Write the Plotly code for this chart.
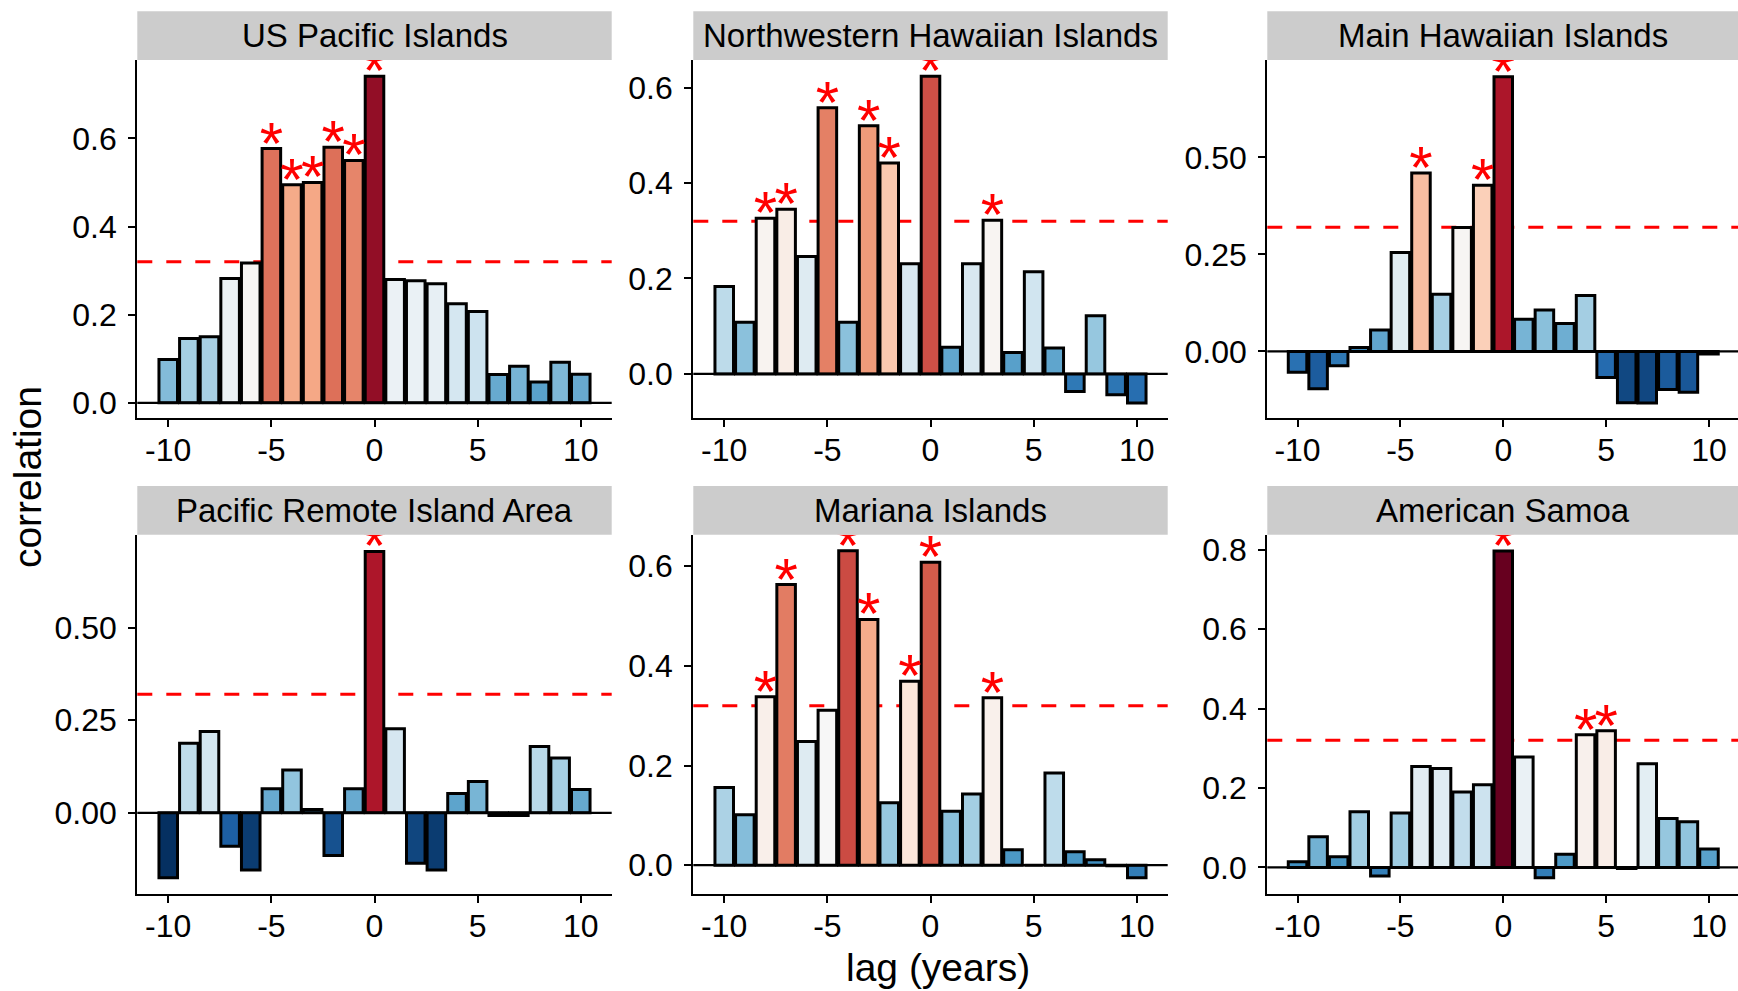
import plotly.graph_objects as go

# lag in years
lags = list(range(-10, 11))
x_tick_vals = [-10, -5, 0, 5, 10]
x_tick_text = ["-10", "-5", "0", "5", "10"]

regions = [
    "US Pacific Islands",
    "Northwestern Hawaiian Islands",
    "Main Hawaiian Islands",
    "Pacific Remote Island Area",
    "Mariana Islands",
    "American Samoa",
]

# correlation by lag, -10 .. 10
corr_us_pacific = [0.098, 0.146, 0.150, 0.282, 0.317, 0.577, 0.495, 0.500, 0.580, 0.550, 0.741,
                   0.280, 0.277, 0.270, 0.225, 0.207, 0.064, 0.083, 0.047, 0.092, 0.065]
corr_nw_hawaii = [0.183, 0.108, 0.326, 0.345, 0.246, 0.558, 0.108, 0.520, 0.442, 0.231, 0.624,
                  0.056, 0.231, 0.322, 0.045, 0.214, 0.054, -0.037, 0.122, -0.044, -0.061]
corr_main_hawaii = [-0.054, -0.096, -0.037, 0.010, 0.055, 0.255, 0.460, 0.147, 0.319, 0.428, 0.708,
                    0.083, 0.107, 0.072, 0.144, -0.067, -0.132, -0.133, -0.098, -0.105, -0.007]
corr_remote = [-0.175, 0.188, 0.220, -0.090, -0.154, 0.065, 0.116, 0.009, -0.115, 0.065, 0.706,
               0.227, -0.136, -0.154, 0.052, 0.085, -0.007, -0.007, 0.179, 0.148, 0.063]
corr_mariana = [0.156, 0.101, 0.338, 0.563, 0.248, 0.311, 0.631, 0.493, 0.125, 0.369, 0.608,
                0.108, 0.143, 0.336, 0.031, 0.000, 0.185, 0.027, 0.011, -0.001, -0.025]
corr_samoa = [0.014, 0.077, 0.027, 0.140, -0.022, 0.137, 0.254, 0.249, 0.190, 0.208, 0.797,
              0.278, -0.026, 0.033, 0.334, 0.344, -0.003, 0.261, 0.123, 0.115, 0.046]

# lags flagged significant (red asterisks)
sig_us_pacific = [-5, -4, -3, -2, -1, 0]
sig_nw_hawaii = [-8, -7, -5, -3, -2, 0, 3]
sig_main_hawaii = [-4, -1, 0]
sig_remote = [0]
sig_mariana = [-8, -7, -4, -3, -1, 0, 3]
sig_samoa = [0, 4, 5]

threshold = 0.32

corr_all = [corr_us_pacific, corr_nw_hawaii, corr_main_hawaii, corr_remote, corr_mariana, corr_samoa]
sig_all = [sig_us_pacific, sig_nw_hawaii, sig_main_hawaii, sig_remote, sig_mariana, sig_samoa]

y_tick_vals = [
    [0.0, 0.2, 0.4, 0.6],
    [0.0, 0.2, 0.4, 0.6],
    [0.0, 0.25, 0.5],
    [0.0, 0.25, 0.5],
    [0.0, 0.2, 0.4, 0.6],
    [0.0, 0.2, 0.4, 0.6, 0.8],
]
y_tick_text = [
    ["0.0", "0.2", "0.4", "0.6"],
    ["0.0", "0.2", "0.4", "0.6"],
    ["0.00", "0.25", "0.50"],
    ["0.00", "0.25", "0.50"],
    ["0.0", "0.2", "0.4", "0.6"],
    ["0.0", "0.2", "0.4", "0.6", "0.8"],
]

# RdBu (11 classes), blue for low, red for high
rdbu = ["#053061", "#2166AC", "#4393C3", "#92C5DE", "#D1E5F0", "#F7F7F7",
        "#FDDBC7", "#F4A582", "#D6604D", "#B2182B", "#67001F"]
colorscale = [[k / 10, c] for k, c in enumerate(rdbu)]
cmin = min(min(v) for v in corr_all)
cmax = max(max(v) for v in corr_all)

W, H = 1738, 991
FONT = "Liberation Sans, Arial, Helvetica, sans-serif"

# panel placement (pixels)
col_px = [(137.3, 611.7), (693.3, 1167.7), (1267.3, 1738.0)]
row_px = [(57.3, 417.3), (535.0, 896.0)]
x_ranges = [[-11.5, 11.5], [-11.5, 11.5], [-11.47, 11.41]]
y_ranges = [[-0.034, 0.778], [-0.092, 0.658], [-0.171, 0.751],
            [-0.218, 0.751], [-0.057, 0.663], [-0.066, 0.838]]
strip_h = 49

fig = go.Figure()
layout = dict(
    width=W, height=H,
    margin=dict(l=0, r=0, t=0, b=0),
    paper_bgcolor="white", plot_bgcolor="white",
    showlegend=False,
    font=dict(family=FONT, color="black"),
)
shapes = []
annotations = []

for i, (name, vals, sig) in enumerate(zip(regions, corr_all, sig_all)):
    n = i + 1
    sfx = "" if n == 1 else str(n)
    r, c = divmod(i, 3)
    x0, x1 = col_px[c]
    top, bot = row_px[r]

    fig.add_trace(go.Bar(
        x=lags, y=vals, width=0.9,
        marker=dict(color=vals, colorscale=colorscale, cmin=cmin, cmax=cmax,
                    line=dict(color="black", width=3)),
        xaxis="x" + sfx, yaxis="y" + sfx,
    ))
    sig_y = [vals[lags.index(l)] for l in sig]
    fig.add_trace(go.Scatter(
        x=sig, y=sig_y, mode="text", text=["*"] * len(sig),
        textposition="middle center",
        textfont=dict(color="red", size=60, family=FONT),
        cliponaxis=True,
        xaxis="x" + sfx, yaxis="y" + sfx,
    ))

    layout["xaxis" + sfx] = dict(
        domain=[x0 / W, x1 / W], range=x_ranges[c], anchor="y" + sfx,
        showline=True, linecolor="black", linewidth=2.2,
        ticks="outside", ticklen=7, tickwidth=2.2, tickcolor="black",
        tickvals=x_tick_vals, ticktext=x_tick_text, ticklabelstandoff=-4,
        tickfont=dict(size=32), showgrid=False, zeroline=False,
    )
    layout["yaxis" + sfx] = dict(
        domain=[1 - bot / H, 1 - top / H], range=y_ranges[i], anchor="x" + sfx,
        showline=True, linecolor="black", linewidth=2.2,
        ticks="outside", ticklen=7, tickwidth=2.2, tickcolor="black",
        tickvals=y_tick_vals[i], ticktext=y_tick_text[i], ticklabelstandoff=5,
        tickfont=dict(size=32), showgrid=False, zeroline=False,
    )

    xd = "x" + sfx + " domain"
    # significance threshold (behind bars) and zero line
    shapes.append(dict(type="line", xref=xd, yref="y" + sfx, x0=0, x1=1,
                       y0=threshold, y1=threshold, layer="below",
                       line=dict(color="red", width=3, dash="15px,14px")))
    shapes.append(dict(type="line", xref=xd, yref="y" + sfx, x0=0, x1=1,
                       y0=0, y1=0, layer="above",
                       line=dict(color="black", width=2.2)))
    # facet strip
    ph = bot - top
    shapes.append(dict(type="rect", xref=xd, yref="y" + sfx + " domain",
                       x0=0, x1=1, y0=1, y1=1 + strip_h / ph,
                       fillcolor="#CCCCCC", line=dict(width=0)))
    annotations.append(dict(text=name, xref=xd, yref="y" + sfx + " domain",
                            x=0.5, y=1 + strip_h / 2 / ph, showarrow=False,
                            xanchor="center", yanchor="middle",
                            font=dict(size=33, color="black")))

annotations.append(dict(text="lag (years)", xref="paper", yref="paper",
                        x=937.5 / W, y=1 - 970 / H, showarrow=False,
                        xanchor="center", yanchor="middle", font=dict(size=39)))
annotations.append(dict(text="correlation", xref="paper", yref="paper",
                        x=27 / W, y=1 - 477 / H, showarrow=False, textangle=-90,
                        xanchor="center", yanchor="middle", font=dict(size=39)))

layout["shapes"] = shapes
layout["annotations"] = annotations
fig.update_layout(**layout)

# drop the browser's default body margin so the figure fills the window
fig.write_html("out.html", config={"displayModeBar": False},
               post_script="document.body.style.margin='0';")
